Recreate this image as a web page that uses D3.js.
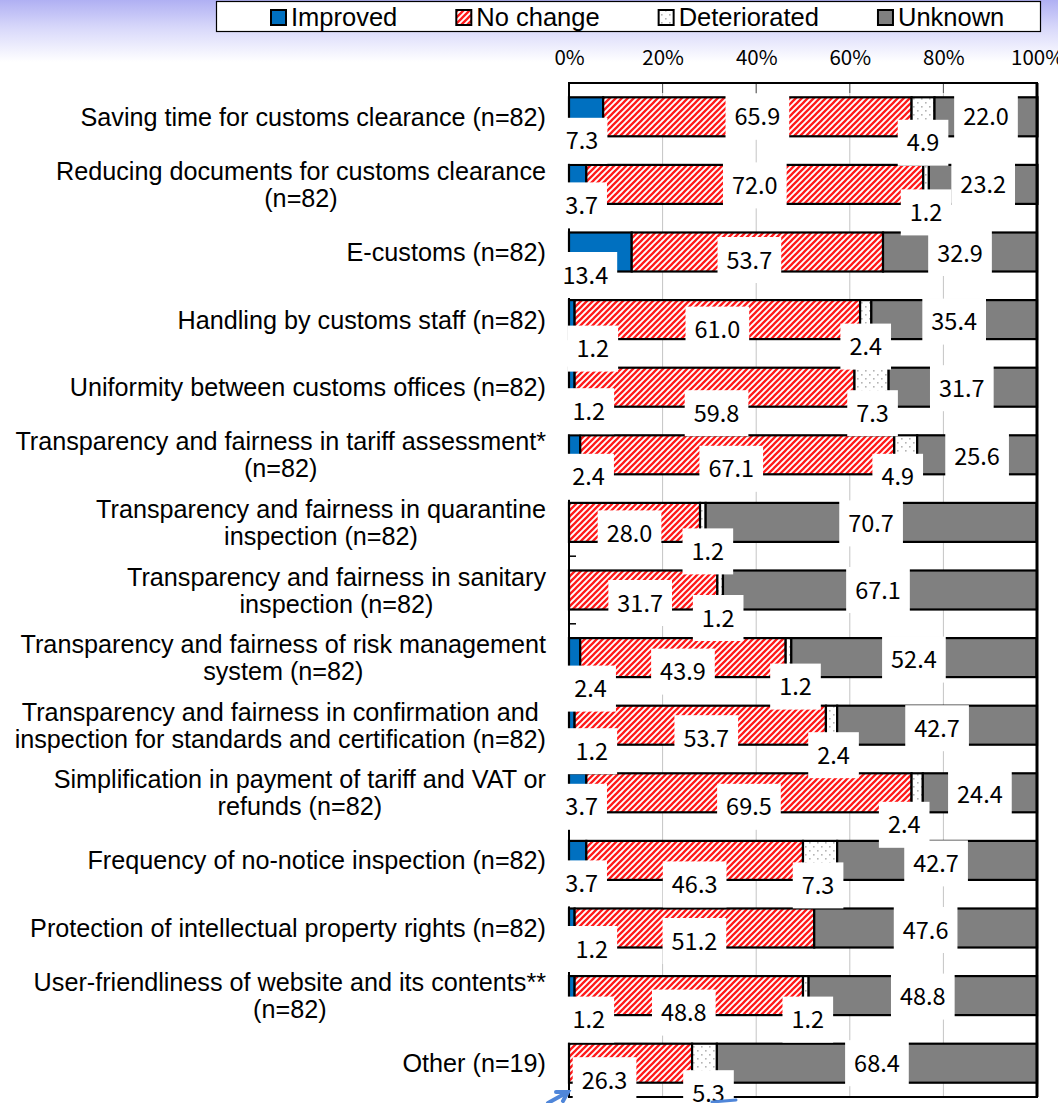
<!DOCTYPE html>
<html>
<head>
<meta charset="utf-8">
<script src="https://cdn.jsdelivr.net/npm/d3@7"></script>
<style>
  html, body { margin: 0; padding: 0; background: #fff; }
  svg { display: block; }
</style>
</head>
<body>
<svg id="chart" width="1058" height="1103"></svg>
<script>
// ---- data ----
const categories = [
  ["Saving time for customs clearance (n=82)"],
  ["Reducing documents for customs clearance", "(n=82)"],
  ["E-customs (n=82)"],
  ["Handling by customs staff (n=82)"],
  ["Uniformity between customs offices (n=82)"],
  ["Transparency and fairness in tariff assessment*", "(n=82)"],
  ["Transparency and fairness in quarantine", "inspection (n=82)"],
  ["Transparency and fairness in sanitary", "inspection (n=82)"],
  ["Transparency and fairness of risk management", "system (n=82)"],
  ["Transparency and fairness in confirmation and", "inspection for standards and certification (n=82)"],
  ["Simplification in payment of tariff and VAT or", "refunds (n=82)"],
  ["Frequency of no-notice inspection (n=82)"],
  ["Protection of intellectual property rights (n=82)"],
  ["User-friendliness of website and its contents**", "(n=82)"],
  ["Other (n=19)"]
];
const improved     = [7.3, 3.7, 13.4, 1.2, 1.2, 2.4, 0, 0, 2.4, 1.2, 3.7, 3.7, 1.2, 1.2, 0];
const noChange     = [65.9, 72.0, 53.7, 61.0, 59.8, 67.1, 28.0, 31.7, 43.9, 53.7, 69.5, 46.3, 51.2, 48.8, 26.3];
const deteriorated = [4.9, 1.2, 0, 2.4, 7.3, 4.9, 1.2, 1.2, 1.2, 2.4, 2.4, 7.3, 0, 1.2, 5.3];
const unknown      = [22.0, 23.2, 32.9, 35.4, 31.7, 25.6, 70.7, 67.1, 52.4, 42.7, 24.4, 42.7, 47.6, 48.8, 68.4];
const seriesNames  = ["Improved", "No change", "Deteriorated", "Unknown"];
const tickValues   = [0, 20, 40, 60, 80, 100];

// ---- layout ----
const W = 1058, H = 1103;
const plot = { left: 569, right: 1037, top: 83, bottom: 1097 };
const labelRight = 546;
const catFont = "'Liberation Sans', Arial, sans-serif";
const numFont = "'Noto Sans CJK JP', 'Noto Sans', sans-serif";

// hand-placed data label nudges [dx, dy] in px, per row and series
const labelNudge = [
  [[-4, 24], [0, 0], [0, 26], [0, 0]],
  [[4, 21], [0, 1], [0, 28], [0, 0]],
  [[-15, 23], [-8, 8], [0, 0], [0, 1]],
  [[21, 29], [0, 10], [0, 27], [0, 2]],
  [[17, 24], [2, 26], [1, 26], [-1, 1]],
  [[14, 22], [-6, 14], [-8, 22], [0, 2]],
  [[0, 0], [-5, 11], [5, 29], [0, 1]],
  [[0, 0], [-3, 13], [-2, 28], [-2, 0]],
  [[16, 31], [0, 14], [7, 29], [0, 2]],
  [[20, 26], [6, 13], [2, 30], [0, 3]],
  [[4, 14], [0, 14], [-13, 32], [0, 2]],
  [[4, 23], [0, 24], [-2, 25], [-1, 3]],
  [[20, 21], [0, 13], [0, 0], [0, 2]],
  [[17, 24], [-5, 17], [2, 24], [0, 1]],
  [[0, 0], [-26, 17], [4, 30], [0, 0]]
];

const svg = d3.select("#chart");
const defs = svg.append("defs");

// soft lavender wash across the top
const bg = defs.append("linearGradient").attr("id", "topWash")
  .attr("x1", 0).attr("y1", 0).attr("x2", 0).attr("y2", 1);
bg.append("stop").attr("offset", "0%").attr("stop-color", "#b0b0f3");
bg.append("stop").attr("offset", "45%").attr("stop-color", "#d8d8fa");
bg.append("stop").attr("offset", "100%").attr("stop-color", "#ffffff");
svg.append("rect").attr("x", 0).attr("y", 0).attr("width", W).attr("height", H).attr("fill", "#fff");
svg.append("rect").attr("x", 0).attr("y", 0).attr("width", W).attr("height", 62).attr("fill", "url(#topWash)");

// fills: solid blue, red upward diagonal hatch, grey dots, solid grey
const hatch = defs.append("pattern").attr("id", "hatchRed")
  .attr("patternUnits", "userSpaceOnUse").attr("width", 6).attr("height", 6);
hatch.append("rect").attr("width", 6).attr("height", 6).attr("fill", "#fff");
hatch.append("path").attr("d", "M-1,1 L1,-1 M0,6 L6,0 M5,7 L7,5")
  .attr("stroke", "#ff1a1a").attr("stroke-width", 2.3);

const dots = defs.append("pattern").attr("id", "dotsGrey")
  .attr("patternUnits", "userSpaceOnUse").attr("width", 8).attr("height", 8);
dots.append("rect").attr("width", 8).attr("height", 8).attr("fill", "#fff");
dots.append("rect").attr("x", 1).attr("y", 2).attr("width", 1.6).attr("height", 1.6).attr("fill", "#b4b4b4");
dots.append("rect").attr("x", 5).attr("y", 6).attr("width", 1.6).attr("height", 1.6).attr("fill", "#b4b4b4");

const fills = ["#0070c0", "url(#hatchRed)", "url(#dotsGrey)", "#808080"];

// ---- scales ----
const x = d3.scaleLinear().domain([0, 100]).range([plot.left, plot.right]);
const y = d3.scaleBand().domain(d3.range(categories.length))
  .range([plot.top, plot.bottom]).paddingInner(0.423).paddingOuter(0.2115);

// stacked rows
const table = categories.map((c, i) => ({
  i, Improved: improved[i], "No change": noChange[i],
  Deteriorated: deteriorated[i], Unknown: unknown[i]
}));
const stacked = d3.stack().keys(seriesNames)(table);

// grid lines
svg.append("g").selectAll("line").data(tickValues.slice(1, -1)).join("line")
  .attr("x1", d => x(d)).attr("x2", d => x(d))
  .attr("y1", plot.top).attr("y2", plot.bottom)
  .attr("stroke", "#c4c4c4").attr("stroke-width", 1);

// bars
const barG = svg.append("g");
stacked.forEach((layer, s) => {
  barG.append("g").selectAll("rect")
    .data(layer.filter(d => d[1] - d[0] > 0))
    .join("rect")
    .attr("x", d => x(d[0]))
    .attr("y", d => y(d.data.i))
    .attr("width", d => x(d[1]) - x(d[0]))
    .attr("height", y.bandwidth())
    .attr("fill", fills[s])
    .attr("stroke", "#000")
    .attr("stroke-width", 2.2);
});

// value axis on top
const topAxis = d3.axisTop(x).tickValues(tickValues).tickFormat(d => d + "%").tickSize(0).tickPadding(0);
const axG = svg.append("g").attr("transform", `translate(0,${plot.top})`).call(topAxis);
axG.select(".domain").remove();
axG.selectAll("text")
  .attr("y", -18).attr("dy", 0)
  .attr("font-family", numFont).attr("font-size", 20.5).attr("fill", "#000");
// inward tick marks
svg.append("g").selectAll("line").data(tickValues).join("line")
  .attr("x1", d => x(d)).attr("x2", d => x(d))
  .attr("y1", plot.top).attr("y2", plot.top + 10)
  .attr("stroke", "#555").attr("stroke-width", 1);

// plot frame, category axis and its inward ticks
svg.append("rect")
  .attr("x", plot.left).attr("y", plot.top)
  .attr("width", plot.right - plot.left).attr("height", plot.bottom - plot.top)
  .attr("fill", "none").attr("stroke", "#000").attr("stroke-width", 2);
svg.append("line").attr("x1", plot.right).attr("x2", plot.right)
  .attr("y1", plot.top).attr("y2", plot.bottom)
  .attr("stroke", "#000").attr("stroke-width", 3);
svg.append("g").selectAll("line").data(d3.range(1, categories.length)).join("line")
  .attr("x1", plot.left).attr("x2", plot.left + 7)
  .attr("y1", d => y(d) - y.step() * y.paddingInner() / 2)
  .attr("y2", d => y(d) - y.step() * y.paddingInner() / 2)
  .attr("stroke", "#000").attr("stroke-width", 1.5);

// data labels with white boxes (drawn over bars and frame)
const labelG = svg.append("g");
stacked.forEach((layer, s) => {
  layer.forEach(d => {
    const v = d[1] - d[0];
    if (v <= 0) return;
    const i = d.data.i;
    const [dx, dy] = labelNudge[i][s];
    const cx = x((d[0] + d[1]) / 2) + dx;
    const cy = y(i) + y.bandwidth() / 2 + dy;
    const g = labelG.append("g");
    const box = g.append("rect").attr("fill", "#fff");
    const t = g.append("text")
      .attr("x", cx).attr("y", cy + 8.5)
      .attr("text-anchor", "middle")
      .attr("font-family", numFont).attr("font-size", 23.5)
      .attr("fill", "#000")
      .text(v.toFixed(1));
    const tw = t.node().getComputedTextLength();
    box.attr("x", cx - tw / 2 - 9).attr("y", cy - 23)
      .attr("width", tw + 18).attr("height", 46);
  });
});

// category labels: block right-aligned, lines centred within the block
const catG = svg.append("g");
categories.forEach((lines, i) => {
  const cy = y(i) + y.bandwidth() / 2;
  const lh = 27;
  const t = catG.append("text")
    .attr("font-family", catFont).attr("font-size", 25.2)
    .attr("text-anchor", "middle").attr("fill", "#000");
  const spans = lines.map((ln, k) => t.append("tspan")
    .attr("y", cy + (k - (lines.length - 1) / 2) * lh + 9)
    .text(ln));
  const maxW = d3.max(spans, sp => sp.node().getComputedTextLength());
  spans.forEach(sp => sp.attr("x", labelRight - maxW / 2));
});

// legend
const leg = svg.append("g");
leg.append("rect").attr("x", 216.5).attr("y", 1.5).attr("width", 824).attr("height", 30)
  .attr("fill", "#fff").attr("stroke", "#000").attr("stroke-width", 1.2);
let lx = 271;
seriesNames.forEach((name, s) => {
  leg.append("rect").attr("x", lx).attr("y", 10).attr("width", 15).attr("height", 15)
    .attr("fill", fills[s]).attr("stroke", "#000").attr("stroke-width", 2);
  const t = leg.append("text").attr("x", lx + 20).attr("y", 26)
    .attr("font-family", catFont).attr("font-size", 25.5).attr("fill", "#000").text(name);
  lx += 20 + t.node().getComputedTextLength() + 59;
});

// blue pointer strokes along the bottom edge
svg.append("path")
  .attr("d", "M548,1103 L566,1093 M556,1092 L568,1092 L563,1101")
  .attr("fill", "none").attr("stroke", "#4f86d9").attr("stroke-width", 4)
  .attr("stroke-linecap", "round");
svg.append("path")
  .attr("d", "M712,1102 L736,1100")
  .attr("fill", "none").attr("stroke", "#4f86d9").attr("stroke-width", 3)
  .attr("stroke-linecap", "round");
</script>
</body>
</html>
